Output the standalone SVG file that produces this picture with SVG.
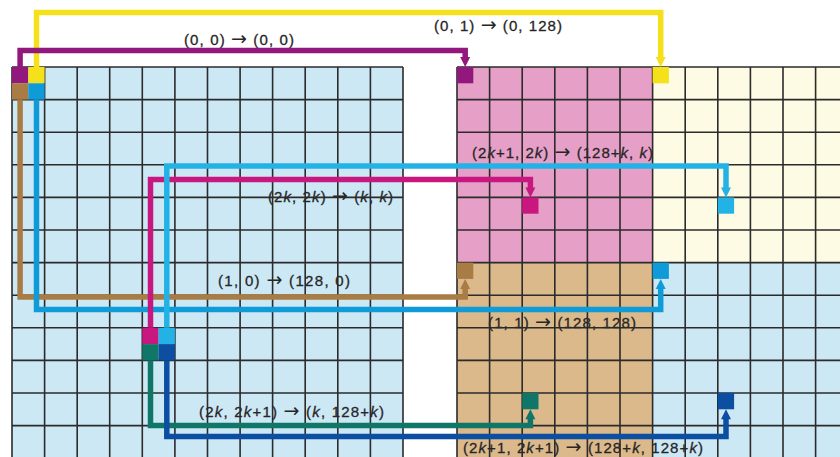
<svg xmlns="http://www.w3.org/2000/svg" xmlns:xlink="http://www.w3.org/1999/xlink" width="840" height="457" viewBox="0 0 840 457">
  <style>
    .grid { fill: none; stroke: #2b2b2b; stroke-width: 1.6; }
    .lbl { font-family: "Liberation Sans", Arial, sans-serif; font-size: 15px; fill: #262626; stroke: #262626; stroke-width: 0.3; }
    .it { font-style: italic; }
    .ar { font-family: "DejaVu Sans", sans-serif; font-size: 19px; stroke-width: 0; }
    .wire { fill: none; stroke-width: 5.5; stroke-linejoin: miter; stroke-linecap: butt; }
    .yellow { stroke: #f5e11a; fill: #f5e11a; }
    .purple { stroke: #92187e; fill: #92187e; }
    .tan { stroke: #a97c45; fill: #a97c45; }
    .blue { stroke: #0f9bd7; fill: #0f9bd7; }
    .magenta { stroke: #c8187f; fill: #c8187f; }
    .cyan { stroke: #22b2e6; fill: #22b2e6; }
    .teal { stroke: #0f7668; fill: #0f7668; }
    .navy { stroke: #0b4ea2; fill: #0b4ea2; }
    .sq { stroke: none; }
    .wire.yellow, .wire.purple, .wire.tan, .wire.blue, .wire.magenta, .wire.cyan, .wire.teal, .wire.navy { fill: none; }
    .head { stroke: none; }
  </style>
  <defs>
    <path id="ad" d="M-5,-10 L5,-10 L0,0 Z"/>
    <path id="au" d="M-5,10 L5,10 L0,0 Z"/>
  </defs>
  <rect width="840" height="457" fill="#ffffff"/>

  <!-- region fills -->
  <g id="regions">
    <rect x="12" y="67" width="391" height="390" fill="#cde8f5"/>
    <rect x="457" y="67" width="195.6" height="195.6" fill="#e6a0c8"/>
    <rect x="652.6" y="67" width="187.4" height="195.6" fill="#fdfbe4"/>
    <rect x="457" y="262.6" width="195.6" height="194.4" fill="#dbb98b"/>
    <rect x="652.6" y="262.6" width="187.4" height="194.4" fill="#cde8f5"/>
  </g>

  <!-- labels -->
  <g id="labels">
    <text class="lbl" x="184" y="45" textLength="110" lengthAdjust="spacing">(0, 0) <tspan class="ar">→</tspan> (0, 0)</text>
    <text class="lbl" x="434" y="31" textLength="128" lengthAdjust="spacing">(0, 1) <tspan class="ar">→</tspan> (0, 128)</text>
    <text class="lbl" x="472" y="158" textLength="181" lengthAdjust="spacing">(2<tspan class="it">k</tspan>+1, 2<tspan class="it">k</tspan>) <tspan class="ar">→</tspan> (128+<tspan class="it">k</tspan>, <tspan class="it">k</tspan>)</text>
    <text class="lbl" x="268" y="202" textLength="125" lengthAdjust="spacing">(2<tspan class="it">k</tspan>, 2<tspan class="it">k</tspan>) <tspan class="ar">→</tspan> (<tspan class="it">k</tspan>, <tspan class="it">k</tspan>)</text>
    <text class="lbl" x="218" y="286" textLength="132" lengthAdjust="spacing">(1, 0) <tspan class="ar">→</tspan> (128, 0)</text>
    <text class="lbl" x="488" y="328" textLength="148" lengthAdjust="spacing">(1, 1) <tspan class="ar">→</tspan> (128, 128)</text>
    <text class="lbl" x="199" y="417" textLength="185" lengthAdjust="spacing">(2<tspan class="it">k</tspan>, 2<tspan class="it">k</tspan>+1) <tspan class="ar">→</tspan> (<tspan class="it">k</tspan>, 128+<tspan class="it">k</tspan>)</text>
    <text class="lbl" x="463" y="452.5" textLength="240" lengthAdjust="spacing">(2<tspan class="it">k</tspan>+1, 2<tspan class="it">k</tspan>+1) <tspan class="ar">→</tspan> (128+<tspan class="it">k</tspan>, 128+<tspan class="it">k</tspan>)</text>
  </g>

  <!-- grid lines -->
  <g id="left-grid">
    <path class="grid" d="M12,67V457 M44.6,67V457 M77.2,67V457 M109.7,67V457 M142.3,67V457 M174.9,67V457 M207.5,67V457 M240.1,67V457 M272.6,67V457 M305.2,67V457 M337.8,67V457 M370.4,67V457 M403,67V457
      M12,67H403 M12,99.6H403 M12,132.2H403 M12,164.8H403 M12,197.4H403 M12,230H403 M12,262.6H403 M12,295.2H403 M12,327.8H403 M12,360.4H403 M12,393H403 M12,425.6H403"/>
  </g>
  <g id="right-grid">
    <path class="grid" d="M457,67V457 M489.6,67V457 M522.2,67V457 M554.8,67V457 M587.4,67V457 M620,67V457 M652.6,67V457 M685.2,67V457 M717.8,67V457 M750.4,67V457 M783,67V457 M815.6,67V457
      M457,67H840 M457,99.6H840 M457,132.2H840 M457,164.8H840 M457,197.4H840 M457,230H840 M457,262.6H840 M457,295.2H840 M457,327.8H840 M457,360.4H840 M457,393H840 M457,425.6H840"/>
  </g>

  <!-- connectors -->
  <g id="connectors">
    <path class="wire yellow" d="M36.5,67V12.5H660.7V58"/>
    <use xlink:href="#ad" href="#ad" class="head yellow" x="660.7" y="67"/>
    <path class="wire purple" d="M20.1,67V50.5H465.2V58"/>
    <use xlink:href="#ad" href="#ad" class="head purple" x="465.2" y="67"/>
    <path class="wire tan" d="M20.1,99.6V297H465.2V288"/>
    <use xlink:href="#au" href="#au" class="head tan" x="465.2" y="278.9"/>
    <path class="wire blue" d="M36.5,99.6V309.5H660.7V288"/>
    <use xlink:href="#au" href="#au" class="head blue" x="660.7" y="278.9"/>
    <path class="wire magenta" d="M150.5,327.8V179.5H530.4V188"/>
    <use xlink:href="#ad" href="#ad" class="head magenta" x="530.4" y="197.4"/>
    <path class="wire cyan" d="M166.8,327.8V166H726V188"/>
    <use xlink:href="#ad" href="#ad" class="head cyan" x="726" y="197.4"/>
    <path class="wire teal" d="M150.5,360.4V425.5H530.4V418"/>
    <use xlink:href="#au" href="#au" class="head teal" x="530.4" y="409.3"/>
    <path class="wire navy" d="M166.8,360.4V436.5H726V418"/>
    <use xlink:href="#au" href="#au" class="head navy" x="726" y="409.3"/>
  </g>

  <!-- source cells -->
  <g id="src-00"><rect class="sq purple" x="12" y="67" width="16.3" height="16.3"/></g>
  <g id="src-01"><rect class="sq yellow" x="28.3" y="67" width="16.3" height="16.3"/></g>
  <g id="src-10"><rect class="sq tan" x="12" y="83.3" width="16.3" height="16.3"/></g>
  <g id="src-11"><rect class="sq blue" x="28.3" y="83.3" width="16.3" height="16.3"/></g>
  <g id="src-2k-2k"><rect class="sq magenta" x="142.3" y="327.8" width="16.3" height="16.3"/></g>
  <g id="src-2k1-2k"><rect class="sq cyan" x="158.6" y="327.8" width="16.3" height="16.3"/></g>
  <g id="src-2k-2k1"><rect class="sq teal" x="142.3" y="344.1" width="16.3" height="16.3"/></g>
  <g id="src-2k1-2k1"><rect class="sq navy" x="158.6" y="344.1" width="16.3" height="16.3"/></g>

  <!-- destination cells -->
  <g id="dst-0-0"><rect class="sq purple" x="457" y="67" width="16.3" height="16.3"/></g>
  <g id="dst-0-128"><rect class="sq yellow" x="652.6" y="67" width="16.3" height="16.3"/></g>
  <g id="dst-128-0"><rect class="sq tan" x="457" y="262.6" width="16.3" height="16.3"/></g>
  <g id="dst-128-128"><rect class="sq blue" x="652.6" y="262.6" width="16.3" height="16.3"/></g>
  <g id="dst-k-k"><rect class="sq magenta" x="522.2" y="197.4" width="16.3" height="16.3"/></g>
  <g id="dst-128k-k"><rect class="sq cyan" x="717.8" y="197.4" width="16.3" height="16.3"/></g>
  <g id="dst-k-128k"><rect class="sq teal" x="522.2" y="393" width="16.3" height="16.3"/></g>
  <g id="dst-128k-128k"><rect class="sq navy" x="717.8" y="393" width="16.3" height="16.3"/></g>
</svg>
